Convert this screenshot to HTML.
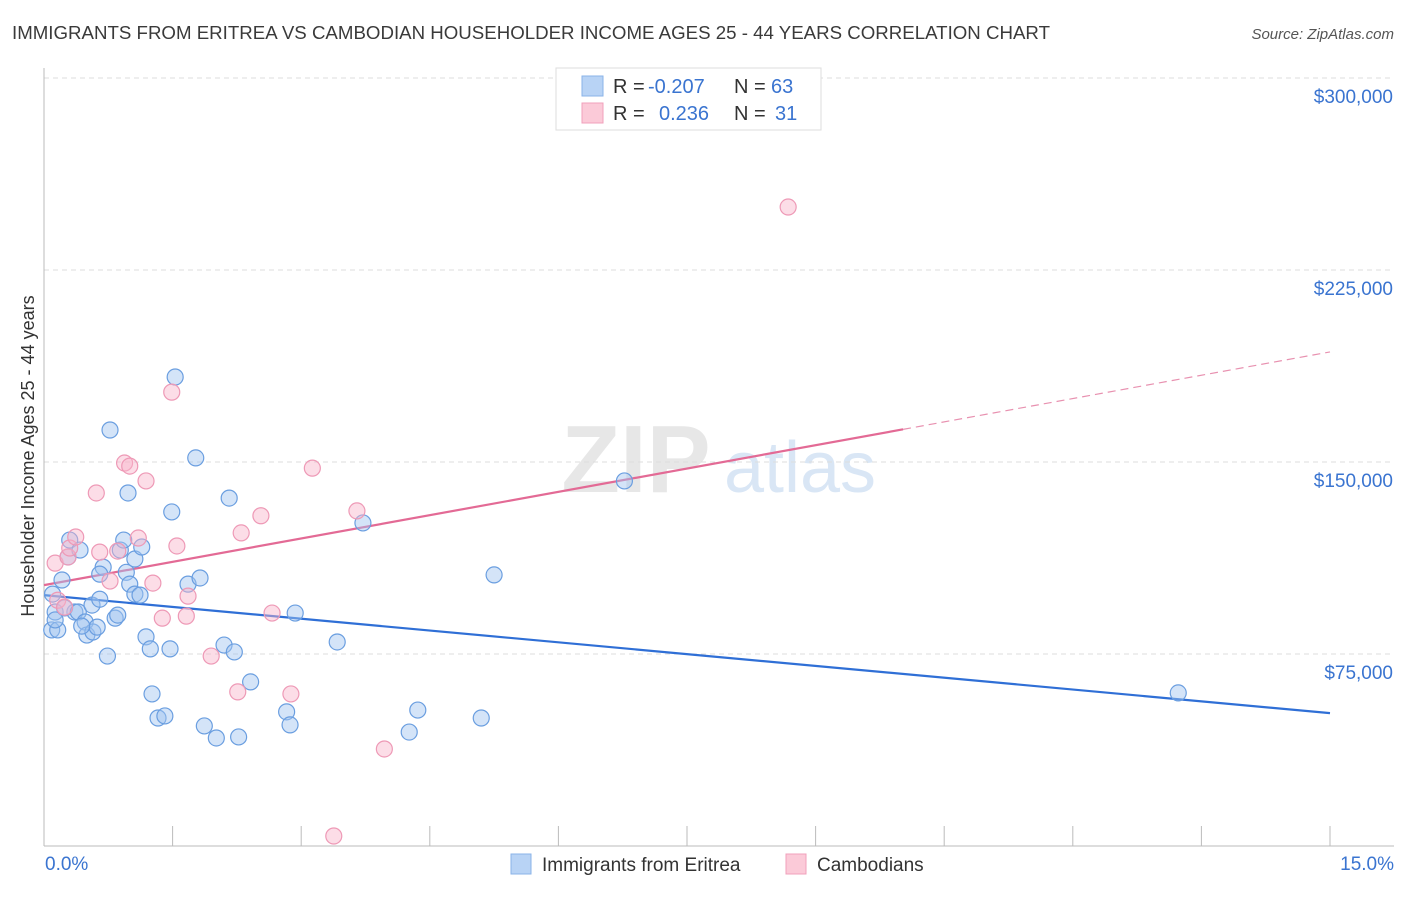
<!DOCTYPE html>
<html><head><meta charset="utf-8">
<style>
body{margin:0;background:#fff;font-family:"Liberation Sans",sans-serif;}
svg text{font-family:"Liberation Sans",sans-serif;}
</style></head>
<body>
<svg id="chart" width="1406" height="892" xmlns="http://www.w3.org/2000/svg">
<text x="12" y="39" font-size="18" fill="#3a3a3a" textLength="1038" lengthAdjust="spacingAndGlyphs">IMMIGRANTS FROM ERITREA VS CAMBODIAN HOUSEHOLDER INCOME AGES 25 - 44 YEARS CORRELATION CHART</text>
<text x="1394" y="39" font-size="15" fill="#555" text-anchor="end" font-style="italic">Source: ZipAtlas.com</text>
<g>
<text x="636" y="492" font-size="96" fill="#d8d8d8" text-anchor="middle" font-family="Liberation Serif" font-weight="bold" opacity="0.6">ZIP</text>
<text x="800" y="492" font-size="72" fill="#c9dcf2" text-anchor="middle" opacity="0.7">atlas</text>
</g>
<g id="grid"></g>
<g id="axes"></g>
<text transform="translate(34,456) rotate(-90)" font-size="18" fill="#333" text-anchor="middle">Householder Income Ages 25 - 44 years</text>
<g id="lines"></g>
<g id="points"></g>
<g>
<rect x="556" y="68" width="265" height="62" fill="#fff" stroke="#ddd"/>
<rect x="582" y="76" width="21" height="20" fill="#b8d3f5" stroke="#8ab3e8"/>
<rect x="582" y="103" width="21" height="20" fill="#fbcad8" stroke="#f0a0bb"/>
<text x="613" y="93" font-size="20" fill="#333">R = </text><text x="648" y="93" font-size="20" fill="#3a74d0">-0.207</text>
<text x="734" y="93" font-size="20" fill="#333">N = </text><text x="771" y="93" font-size="20" fill="#3a74d0">63</text>
<text x="613" y="120" font-size="20" fill="#333">R = </text><text x="659" y="120" font-size="20" fill="#3a74d0">0.236</text>
<text x="734" y="120" font-size="20" fill="#333">N = </text><text x="775" y="120" font-size="20" fill="#3a74d0">31</text>
</g>
<g>
<rect x="511" y="854" width="20" height="20" fill="#b8d3f5" stroke="#8ab3e8"/>
<text x="542" y="871" font-size="19" fill="#333">Immigrants from Eritrea</text>
<rect x="786" y="854" width="20" height="20" fill="#fbcad8" stroke="#f0a0bb"/>
<text x="817" y="871" font-size="19" fill="#333">Cambodians</text>
</g>
</svg>
<script>
const yTicks=[75000,150000,225000,300000];
const yTickLabels=["$75,000","$150,000","$225,000","$300,000"];
const xTickLabels=["0.0%","15.0%"];
const blueX=[0.09,0.16,0.13,0.1,0.21,0.3,0.28,0.42,0.36,0.24,0.4,0.56,0.48,0.5,0.57,0.62,0.44,0.65,0.69,0.65,0.74,0.77,0.83,0.86,0.89,0.93,0.96,0.98,1.0,1.06,1.06,1.12,1.14,1.19,1.24,1.26,1.33,1.41,1.47,1.49,1.53,1.68,1.77,1.82,1.87,2.01,2.1,2.16,2.22,2.27,2.41,2.83,2.87,2.93,3.42,3.72,4.26,4.36,5.1,5.25,6.77,13.23,0.13];
const blueY=[84400,84400,91400,98400,103900,119500,112900,115600,91400,93000,91400,94100,87500,82400,83600,85500,85900,96400,108900,106200,74200,162500,89000,90200,115600,119500,106900,137900,102300,112100,98400,98000,116800,81700,77000,59400,50000,50800,77000,130500,183200,102300,151600,104700,46900,42200,78500,135900,75800,42600,64100,52400,47300,91000,79700,126200,44500,53100,50000,105900,142600,59800,88300];
const pinkX=[0.13,0.16,0.24,0.28,0.3,0.37,0.61,0.65,0.77,0.86,0.94,1.0,1.1,1.19,1.27,1.38,1.49,1.55,1.66,1.68,1.95,2.26,2.3,2.53,2.66,2.88,3.13,3.38,3.65,3.97,8.68];
const pinkY=[110500,96000,93300,112900,116400,120700,137900,114800,103500,115200,149600,148400,120300,142600,102700,89000,177300,117200,89800,97600,74200,60200,122300,129000,91000,59400,147600,3900,130900,37900,249600];
const blueTrend=[98000,51900];
const pinkTrend=[101900,193000];
const pinkSolidEnd=10.02;

const X=v=>44+v*(1286/15);
const Y=v=>846-v*(192/75000);
const NS="http://www.w3.org/2000/svg";
function mk(tag,attrs,parent){const e=document.createElementNS(NS,tag);for(const k in attrs)e.setAttribute(k,attrs[k]);document.getElementById(parent).appendChild(e);return e;}

yTicks.forEach((t,i)=>{
  const g=mk('line',{x1:44,x2:1394,y1:Y(t),y2:Y(t),stroke:'#ddd','stroke-dasharray':'5,4'},'grid');
  
  
  const tx=mk('text',{x:1393,y:Y(t)+25,'font-size':19,fill:'#3a74d0','text-anchor':'end'},'axes');
  tx.textContent=yTickLabels[i];
  
  
});
const ax=mk('line',{x1:44,x2:44,y1:68,y2:846,stroke:'#bbb'},'axes');


const bx=mk('line',{x1:44,x2:1394,y1:846,y2:846,stroke:'#bbb'},'axes');


for(let i=1;i<=10;i++){
  const t=mk('line',{x1:X(i*1.5),x2:X(i*1.5),y1:826,y2:846,stroke:'#bbb'},'axes');
  
  
}
[[0,'start',45],[15,'end',1394]].forEach((d,i)=>{
  const t=mk('text',{x:d[2],y:870,'font-size':19,fill:'#3a74d0','text-anchor':d[1]},'axes');
  t.textContent=xTickLabels[i];
  
  
});
const lerp=(a,b,x)=>a+(b-a)*x/15;
const bl=mk('line',{x1:X(0),y1:Y(blueTrend[0]),x2:X(15),y2:Y(blueTrend[1]),stroke:'#2f6fd6','stroke-width':2.2},'lines');


const pl=mk('line',{x1:X(0),y1:Y(pinkTrend[0]),x2:X(pinkSolidEnd),y2:Y(lerp(pinkTrend[0],pinkTrend[1],pinkSolidEnd)),stroke:'#e36a95','stroke-width':2.2},'lines');


const pd=mk('line',{x1:X(pinkSolidEnd),y1:Y(lerp(pinkTrend[0],pinkTrend[1],pinkSolidEnd)),x2:X(15),y2:Y(pinkTrend[1]),stroke:'#e891b0','stroke-width':1.2,'stroke-dasharray':'8,5'},'lines');


blueX.forEach((x,i)=>{
  const c=mk('circle',{cx:X(x),cy:Y(blueY[i]),r:8,fill:'rgba(160,196,240,0.45)',stroke:'#6a9ee0','stroke-width':1.2},'points');
  
  
});
pinkX.forEach((x,i)=>{
  const c=mk('circle',{cx:X(x),cy:Y(pinkY[i]),r:8,fill:'rgba(248,180,202,0.45)',stroke:'#ee99b6','stroke-width':1.2},'points');
  
  
});
</script>
</body></html>
